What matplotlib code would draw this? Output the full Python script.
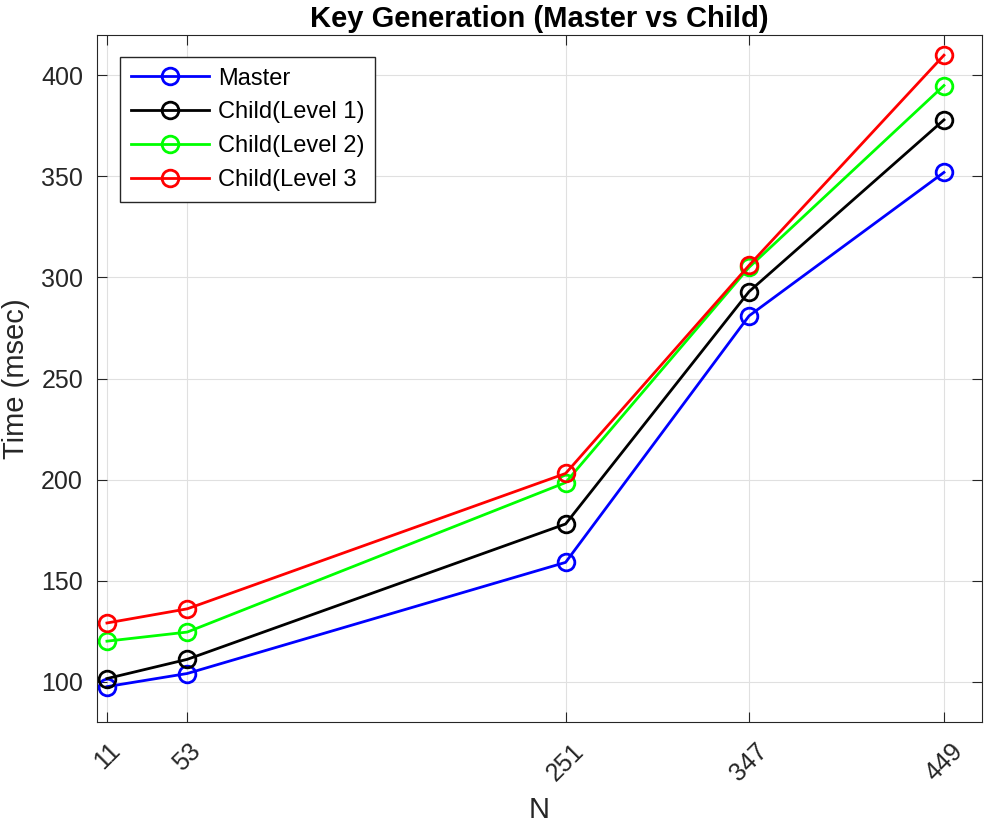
import numpy as np
import matplotlib.pyplot as plt

plt.rcParams['font.family'] = ['Liberation Sans', 'DejaVu Sans']

# Valores de N e tempos (msec)
n_vals = [11, 53, 251, 347, 449]
master = [97.5, 104, 159, 281, 352]
child1 = [101.5, 111, 178, 293, 378]
child2 = [120, 124.5, 198.5, 305, 395]
child3 = [129, 136, 203, 306, 410]

series = [
    ('Master', master, (0, 0, 1)),
    ('Child(Level 1)', child1, (0, 0, 0)),
    ('Child(Level 2)', child2, (0, 1, 0)),
    ('Child(Level 3', child3, (1, 0, 0)),
]

fig = plt.figure(figsize=(9.86, 8.26), dpi=100)
ax = fig.add_axes([97 / 986, 1 - 722 / 826, (982 - 97) / 986, (722 - 35) / 826])

for nome, vals, cor in series:
    ax.plot(n_vals, vals, '-o', color=cor, label=nome, linewidth=2,
            markersize=12, markerfacecolor='none', markeredgewidth=2)

ax.set_xlim(5.8, 468.9)
ax.set_ylim(80, 420)
ax.set_xticks(n_vals)
ax.set_xticklabels([str(v) for v in n_vals], rotation=45, fontsize=18)
ax.set_yticks(np.arange(100, 401, 50))
ax.tick_params(axis='y', labelsize=18, pad=10)
ax.tick_params(axis='x', pad=12)
ax.tick_params(direction='in', top=True, right=True, length=7, colors='#262626',
               labelcolor='#262626')
ax.grid(True, color='#e0e0e0', linewidth=0.8)
for s in ax.spines.values():
    s.set_color('#262626')

ax.set_xlabel('N', fontsize=21, color='#262626', labelpad=8)
ax.set_ylabel('Time (msec)', fontsize=21, color='#262626', labelpad=8)
ax.set_title('Key Generation (Master vs Child)', fontsize=21, fontweight='bold', pad=6)

leg = ax.legend(loc='upper left', bbox_to_anchor=(23 / 885, 1 - 22 / 687), fontsize=17,
                fancybox=False, framealpha=1, edgecolor='#262626',
                handlelength=3.3, borderpad=0.45, labelspacing=0.5,
                handletextpad=0.4, borderaxespad=0)
leg.get_frame().set_linewidth(1)

fig.savefig('out.png', dpi=100)
